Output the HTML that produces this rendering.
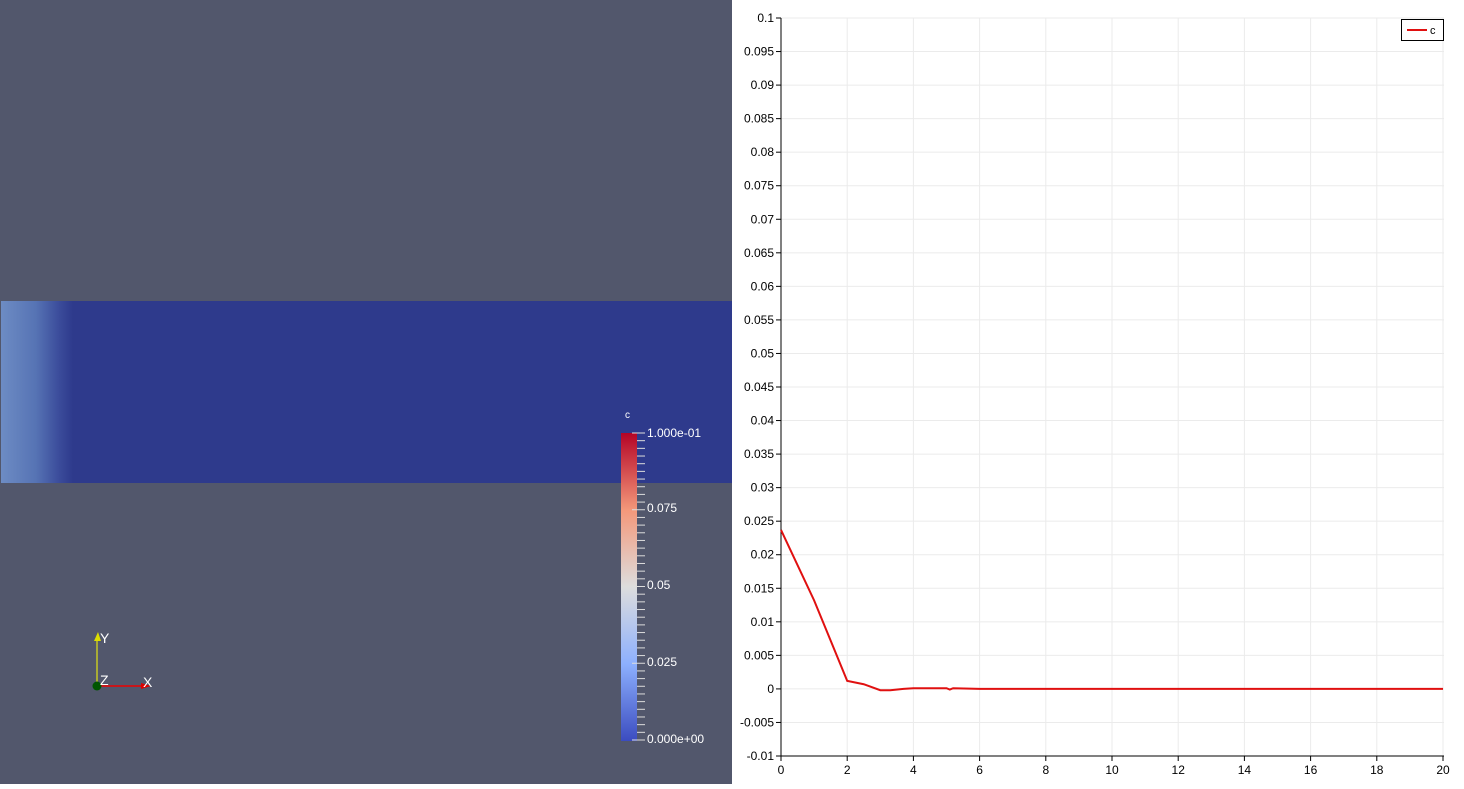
<!DOCTYPE html>
<html><head><meta charset="utf-8"><style>
body{margin:0;width:1464px;height:784px;overflow:hidden;font-family:"Liberation Sans",sans-serif;}
#left{position:absolute;left:0;top:0;width:732px;height:784px;background:#52576c;}
#right{position:absolute;left:732px;top:0;width:732px;height:784px;background:#fff;}
</style></head><body>
<div id="left">
<div style="position:absolute;left:1px;top:301px;width:731px;height:182px;background:linear-gradient(to right,#6d8cc4 0px,#5673b4 35px,#3b4c9b 58px,#2e3a8c 72px,#2e3a8c 100%);"></div>
<svg width="732" height="784" style="position:absolute;left:0;top:0">
<defs><linearGradient id="cb" x1="0" y1="1" x2="0" y2="0">
<stop offset="0" stop-color="#3b4cc0"/><stop offset="0.25" stop-color="#8db0fe"/><stop offset="0.5" stop-color="#dddddd"/><stop offset="0.75" stop-color="#f4987a"/><stop offset="1" stop-color="#b40426"/></linearGradient></defs>
<g>
<text x="625" y="418" fill="#fff" font-size="10">c</text>
<rect x="621" y="433" width="16" height="308" fill="url(#cb)"/>
<g id="cbt" stroke="#ddd"></g>
<text x="647" y="437" fill="#fff" font-size="12">1.000e-01</text>
<text x="647" y="512" fill="#fff" font-size="12">0.075</text>
<text x="647" y="589" fill="#fff" font-size="12">0.05</text>
<text x="647" y="666" fill="#fff" font-size="12">0.025</text>
<text x="647" y="743" fill="#fff" font-size="12">0.000e+00</text>
</g>
<g>
<line x1="97" y1="686" x2="97" y2="638" stroke="#ff0" stroke-width="1"/>
<polygon points="94,641 98,632 101,641" fill="#dd0"/>
<line x1="97" y1="686" x2="145" y2="686" stroke="#e00" stroke-width="1.5"/>
<polygon points="141,683 151,686 141,689" fill="#d00"/>
<circle cx="97" cy="686" r="4.5" fill="#050"/>
<text x="100" y="643" fill="#fff" font-size="14">Y</text>
<text x="100" y="685" fill="#fff" font-size="14">Z</text>
<text x="143" y="687" fill="#fff" font-size="14">X</text>
</g>
</svg>
</div>
<div id="right">
<svg id="chart" width="732" height="784"></svg>
</div>
<script>
const xTicks=[0,2,4,6,8,10,12,14,16,18,20];
const yTicks=[-0.01,-0.005,0,0.005,0.01,0.015,0.02,0.025,0.03,0.035,0.04,0.045,0.05,0.055,0.06,0.065,0.07,0.075,0.08,0.085,0.09,0.095,0.1];
const yLabels=["-0.01","-0.005","0","0.005","0.01","0.015","0.02","0.025","0.03","0.035","0.04","0.045","0.05","0.055","0.06","0.065","0.07","0.075","0.08","0.085","0.09","0.095","0.1"];
const xs=[0,1,2,2.5,3,3.3,3.7,4,5,5.1,5.2,6,8,10,12,14,16,18,20];
const cVals=[0.0237,0.0132,0.0012,0.0007,-0.0002,-0.0002,0,0.0001,0.0001,-0.0001,0.0001,0,0,0,0,0,0,0,0];
const NS="http://www.w3.org/2000/svg";
const svg=document.getElementById('chart');
const X=v=>49+(v-0)/20*662, Y=v=>756-(v+0.01)/0.11*738;
function el(t,a,p){const e=document.createElementNS(NS,t);for(const k in a)e.setAttribute(k,a[k]);(p||svg).appendChild(e);return e;}
yTicks.forEach((t,i)=>{
 const g=el('line',{x1:49,x2:712,y1:Y(t),y2:Y(t),stroke:'#ebebeb'});
 
 
 el('line',{x1:44,x2:49,y1:Y(t),y2:Y(t),stroke:'#000'});
 const tx=el('text',{x:42,y:Y(t)+4,'text-anchor':'end','font-size':12,fill:'#000'});
 tx.textContent=yLabels[i];
 
 
});
xTicks.forEach(t=>{
 const g=el('line',{x1:X(t),x2:X(t),y1:18,y2:756,stroke:'#ebebeb'});
 
 
 el('line',{x1:X(t),x2:X(t),y1:756,y2:761,stroke:'#000'});
 const tx=el('text',{x:X(t),y:774,'text-anchor':'middle','font-size':12,fill:'#000'});
 tx.textContent=t;
 
 
});
const ax=el('path',{d:'M49 18V756H712',stroke:'#000',fill:'none'});


const ln=el('polyline',{points:xs.map((x,i)=>X(x)+','+Y(cVals[i])).join(' '),fill:'none',stroke:'#e01010','stroke-width':2});


const lg=el('g',{});


el('rect',{x:669.5,y:19.5,width:42,height:21,fill:'#fff',stroke:'#000'},lg);
el('line',{x1:675,x2:695,y1:30,y2:30,stroke:'#e01010','stroke-width':2},lg);
const lt=el('text',{x:698,y:34,'font-size':11,fill:'#000'},lg);lt.textContent='c';
const cbt=document.getElementById('cbt');
for(let i=0;i<=40;i++){const y=433+i*307/40;const l=document.createElementNS(NS,'line');l.setAttribute('x1',i%10==0?632:637);l.setAttribute('x2',645);l.setAttribute('y1',y);l.setAttribute('y2',y);cbt.appendChild(l);}
</script>
</body></html>
